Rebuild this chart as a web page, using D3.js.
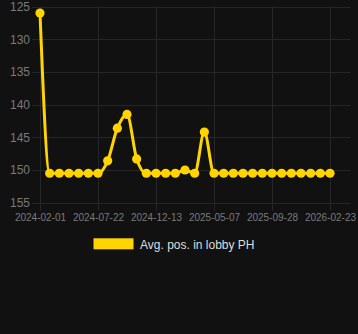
<!DOCTYPE html>
<html>
<head>
<meta charset="utf-8">
<script src="https://cdn.jsdelivr.net/npm/d3@7"></script>
<style>
html,body{margin:0;padding:0;background:#111111;}
svg{display:block;}
</style>
</head>
<body>
<svg id="chart" width="358" height="334"></svg>
<script>
const dates = ["2024-02-01","2024-03-01","2024-03-30","2024-04-28","2024-05-27","2024-06-24",
"2024-07-22","2024-08-15","2024-09-08","2024-10-02","2024-10-26","2024-11-19",
"2024-12-13","2025-01-06","2025-01-30","2025-02-23","2025-03-19","2025-04-13",
"2025-05-07","2025-05-31","2025-06-24","2025-07-18","2025-08-11","2025-09-04",
"2025-09-28","2025-10-23","2025-11-17","2025-12-11","2026-01-05","2026-01-30","2026-02-23"];
const positions = [126,150.5,150.5,150.5,150.5,150.5,
150.5,148.6,143.6,141.5,148.3,150.5,
150.5,150.5,150.5,150,150.5,144.2,
150.5,150.5,150.5,150.5,150.5,150.5,
150.5,150.5,150.5,150.5,150.5,150.5,150.5];
const xTickLabels = ["2024-02-01","2024-07-22","2024-12-13","2025-05-07","2025-09-28","2026-02-23"];
const yTicks = [125,130,135,140,145,150,155];
const seriesName = "Avg. pos. in lobby PH";

(function(){
const color = "#ffd400";
const font = "'Liberation Sans', Arial, sans-serif";
const svg = d3.select("#chart");
const pLeft = 40, pRight = 330, pTop = 6.5, pBottom = 202.7, plotRight = 350;

const x = d3.scalePoint().domain(dates).range([pLeft, pRight]);
const y = d3.scaleLinear().domain([125,155]).range([pTop, pBottom]);

// grid
const grid = svg.append("g");
grid.selectAll("line.h").data(yTicks).join("line")
  .attr("x1", pLeft-8).attr("x2", plotRight)
  .attr("y1", d=>Math.round(y(d))+0.5).attr("y2", d=>Math.round(y(d))+0.5)
  .attr("stroke", "#262626").attr("stroke-width",1);
grid.selectAll("line.v").data(xTickLabels).join("line")
  .attr("x1", d=>Math.round(x(d))+0.5).attr("x2", d=>Math.round(x(d))+0.5)
  .attr("y1", pTop).attr("y2", pBottom+8)
  .attr("stroke", "#262626").attr("stroke-width",1);

// y axis labels
const yAxis = d3.axisLeft(y).tickValues(yTicks).tickSize(0).tickPadding(0);
const gy = svg.append("g").attr("transform", `translate(${pLeft-10},0)`).call(yAxis);
gy.select(".domain").remove();
gy.selectAll("text").attr("fill","#7a7a7a").style("font-family",font).style("font-size","12px");

// x axis labels
const xAxis = d3.axisBottom(x).tickValues(xTickLabels).tickSize(0).tickPadding(0);
const gx = svg.append("g").attr("transform", `translate(0,${pBottom+11})`).call(xAxis);
gx.select(".domain").remove();
gx.selectAll("text").attr("fill","#7a7a7a").style("font-family",font).style("font-size","10px");

// line
const line = d3.line().x((d,i)=>x(dates[i])).y(d=>y(d)).curve(d3.curveMonotoneX);
svg.append("path").datum(positions).attr("d", line)
  .attr("fill","none").attr("stroke",color).attr("stroke-width",3);
svg.append("g").selectAll("circle").data(positions).join("circle")
  .attr("cx",(d,i)=>x(dates[i])).attr("cy",d=>y(d)).attr("r",4.6).attr("fill",color);

// legend
const lg = svg.append("g");
lg.append("rect").attr("x",93.5).attr("y",238.3).attr("width",40).attr("height",11).attr("fill",color);
lg.append("text").attr("x",140).attr("y",248.5).text(seriesName)
  .attr("fill","#dddddd").style("font-family",font).style("font-size","12px");
})();
</script>
</body>
</html>
